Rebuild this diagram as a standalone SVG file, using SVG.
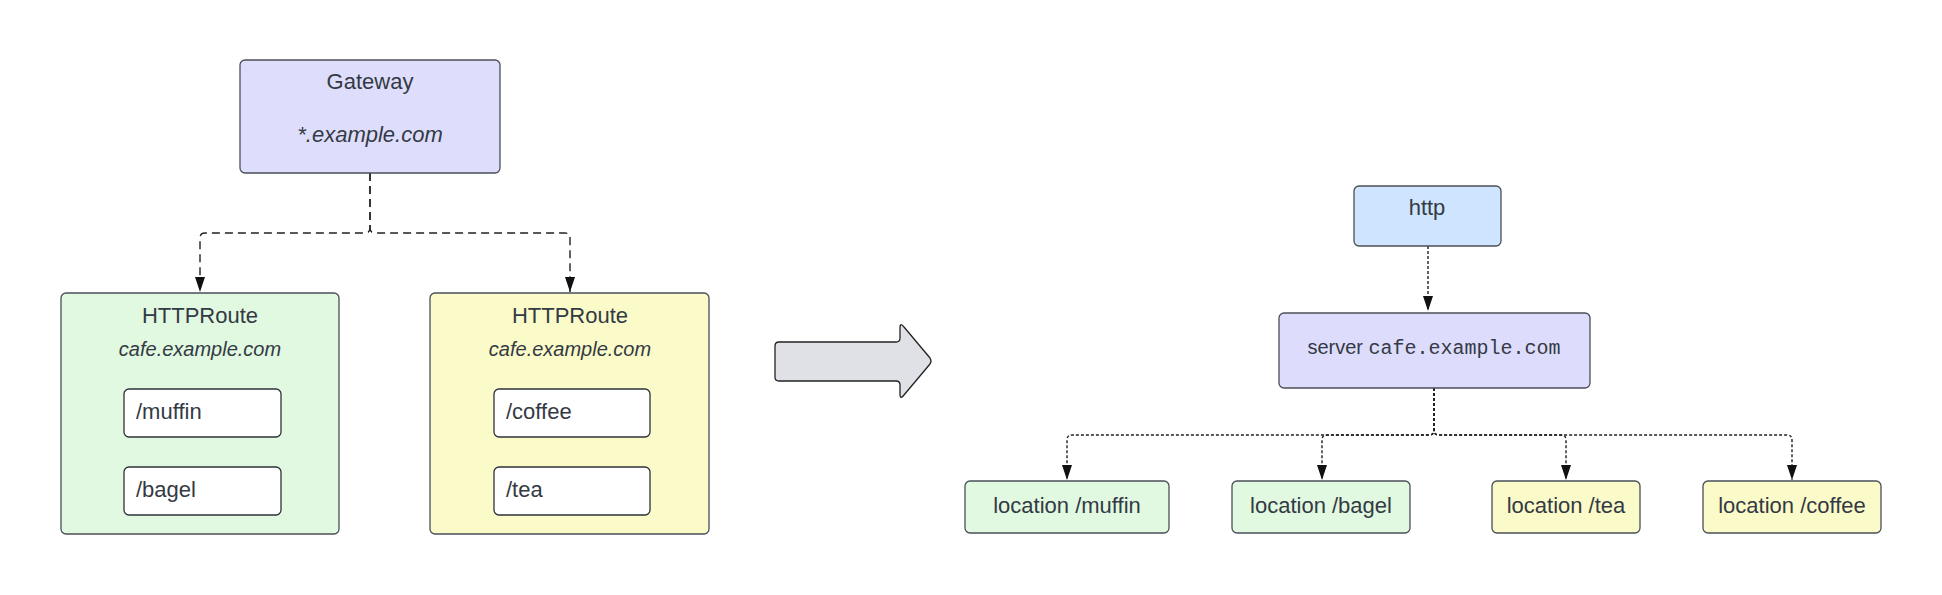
<svg xmlns="http://www.w3.org/2000/svg" width="1942" height="595" viewBox="0 0 1942 595">
<defs>
<style>
.box{stroke:#4a4f58;stroke-width:1.3}
.inner{fill:#ffffff;stroke:#2e3238;stroke-width:1.3}
.t{font-family:"Liberation Sans",Arial,sans-serif;font-size:22px;fill:#333a44}
.it{font-style:italic}
.s20{font-size:20px}
.mono{font-family:"Liberation Mono","Courier New",monospace}
.c1{fill:none;stroke:#222;stroke-width:1.4;stroke-dasharray:8 5}
.c2{fill:none;stroke:#222;stroke-width:1.4;stroke-dasharray:3 2}
</style>
<marker id="ah" markerUnits="userSpaceOnUse" markerWidth="16" markerHeight="12" viewBox="0 -6 16 12" refX="15" refY="0" orient="auto">
<path d="M0,-5 L15,0 L0,5 z" fill="#111"/>
</marker>
</defs>
<rect width="1942" height="595" fill="#ffffff"/>

<g id="connectors">
<path class="c1" d="M370,173 V228 Q370,233 365,233 H205 Q200,233 200,238 V292" marker-end="url(#ah)"/>
<path class="c1" d="M370,173 V228 Q370,233 375,233 H565 Q570,233 570,238 V292" marker-end="url(#ah)"/>
<path class="c2" d="M1428,246 V311" marker-end="url(#ah)"/>
<path class="c2" d="M1434,388 V430 Q1434,435 1429,435 H1072 Q1067,435 1067,440 V480" marker-end="url(#ah)"/>
<path class="c2" d="M1434,388 V430 Q1434,435 1429,435 H1327 Q1322,435 1322,440 V480" marker-end="url(#ah)"/>
<path class="c2" d="M1434,388 V430 Q1434,435 1439,435 H1561 Q1566,435 1566,440 V480" marker-end="url(#ah)"/>
<path class="c2" d="M1434,388 V430 Q1434,435 1439,435 H1787 Q1792,435 1792,440 V480" marker-end="url(#ah)"/>
</g>

<g id="gateway">
<rect class="box" x="240" y="60" width="260" height="113" rx="5" fill="#dedefc"/>
<text class="t" x="370" y="89" text-anchor="middle">Gateway</text>
<text class="t it" x="370" y="142" text-anchor="middle">*.example.com</text>
</g>

<g id="httproute-green">
<rect class="box" x="61" y="293" width="278" height="241" rx="5" fill="#e1f8e1"/>
<text class="t" x="200" y="323" text-anchor="middle">HTTPRoute</text>
<text class="t it s20" x="200" y="356" text-anchor="middle">cafe.example.com</text>
</g>
<g id="route-muffin">
<rect class="inner" x="124" y="389" width="157" height="48" rx="5"/>
<text class="t" x="136" y="419">/muffin</text>
</g>
<g id="route-bagel">
<rect class="inner" x="124" y="467" width="157" height="48" rx="5"/>
<text class="t" x="136" y="497">/bagel</text>
</g>

<g id="httproute-yellow">
<rect class="box" x="430" y="293" width="279" height="241" rx="5" fill="#fbfac9"/>
<text class="t" x="570" y="323" text-anchor="middle">HTTPRoute</text>
<text class="t it s20" x="570" y="356" text-anchor="middle">cafe.example.com</text>
</g>
<g id="route-coffee">
<rect class="inner" x="494" y="389" width="156" height="48" rx="5"/>
<text class="t" x="506" y="419">/coffee</text>
</g>
<g id="route-tea">
<rect class="inner" x="494" y="467" width="156" height="48" rx="5"/>
<text class="t" x="506" y="497">/tea</text>
</g>

<g id="transform-arrow">
<path d="M779,342 H896 Q900,342 900,338 V328 Q900,322 904,327 L930,358 Q932,361 930,364 L904,395 Q900,400 900,394 V385 Q900,381 896,381 H779 Q775,381 775,377 V346 Q775,342 779,342 z" fill="#dfe1e6" stroke="#222" stroke-width="1.3"/>
</g>

<g id="http">
<rect class="box" x="1354" y="186" width="147" height="60" rx="5" fill="#cfe4ff" stroke="#222"/>
<text class="t" x="1427" y="215" text-anchor="middle">http</text>
</g>

<g id="server">
<rect class="box" x="1279" y="313" width="311" height="75" rx="5" fill="#dedcfd" stroke="#222"/>
<text class="t s20" x="1434" y="354" text-anchor="middle">server <tspan class="mono">cafe.example.com</tspan></text>
</g>

<g id="loc-muffin">
<rect class="box" x="965" y="481" width="204" height="52" rx="5" fill="#e1f8e1"/>
<text class="t" x="1067" y="513" text-anchor="middle">location /muffin</text>
</g>
<g id="loc-bagel">
<rect class="box" x="1232" y="481" width="178" height="52" rx="5" fill="#e1f8e1"/>
<text class="t" x="1321" y="513" text-anchor="middle">location /bagel</text>
</g>
<g id="loc-tea">
<rect class="box" x="1492" y="481" width="148" height="52" rx="5" fill="#fbfac9"/>
<text class="t" x="1566" y="513" text-anchor="middle">location /tea</text>
</g>
<g id="loc-coffee">
<rect class="box" x="1703" y="481" width="178" height="52" rx="5" fill="#fbfac9"/>
<text class="t" x="1792" y="513" text-anchor="middle">location /coffee</text>
</g>
</svg>
